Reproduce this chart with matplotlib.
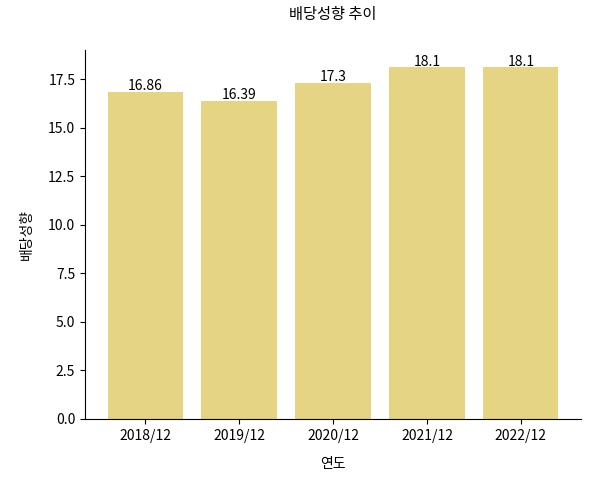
import matplotlib.pyplot as plt

plt.rcParams['font.family'] = ['Noto Sans CJK KR', 'DejaVu Sans']

years = ["2018/12", "2019/12", "2020/12", "2021/12", "2022/12"]
payout = [16.86, 16.39, 17.3, 18.1, 18.1]
labels = ["16.86", "16.39", "17.3", "18.1", "18.1"]

fig = plt.figure(figsize=(5.91, 4.79), dpi=100)
ax = fig.add_axes([85 / 591, 60 / 479, 496 / 591, 369 / 479])
bars = ax.bar(years, payout, color="#e5d483", width=0.8)
ax.bar_label(bars, labels=labels, padding=-1, fontsize=10)
ax.set_ylim(0, 19)
ax.set_yticks([0, 2.5, 5, 7.5, 10, 12.5, 15, 17.5])
ax.set_title("배당성향 추이", pad=22, fontsize=11)
ax.set_xlabel("연도", labelpad=10)
ax.set_ylabel("배당성향", labelpad=10)
ax.spines["top"].set_visible(False)
ax.spines["right"].set_visible(False)
ax.tick_params(labelsize=10)

fig.savefig("out.png", dpi=100)
